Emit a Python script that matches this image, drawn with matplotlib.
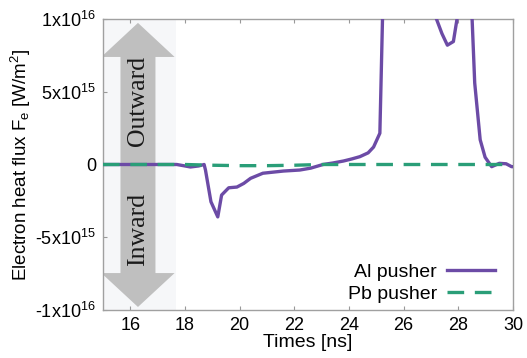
import matplotlib
matplotlib.use("Agg")
import matplotlib.pyplot as plt
from matplotlib.patches import Polygon, Rectangle
import numpy as np

plt.rcParams['font.family'] = ['Liberation Sans', 'DejaVu Sans']
plt.rcParams['mathtext.default'] = 'regular'

# Al pusher (values in W/m^2)
al_t = [15.0, 16.0, 17.0, 17.7, 18.0, 18.2, 18.5, 18.7, 18.75, 18.95, 19.2, 19.34,
        19.6, 19.9, 20.15, 20.4, 20.85, 21.35, 21.6, 22.2, 22.6, 23.05, 23.4, 23.8,
        24.1, 24.4, 24.7, 24.9, 25.13, 25.3, 26.0, 27.0, 27.2, 27.4, 27.6, 27.82,
        27.97, 28.1, 28.4, 28.5, 28.6, 28.8, 28.98, 29.22, 29.5, 29.75, 29.95, 30.0]
al_v = [0.0, 0.0, 0.0, 0.0, -0.1e15, -0.17e15, -0.1e15, 0.0, -0.38e15, -2.56e15, -3.6e15, -2.1e15,
        -1.6e15, -1.55e15, -1.3e15, -0.95e15, -0.6e15, -0.5e15, -0.45e15, -0.38e15, -0.25e15, 0.0e15, 0.1e15, 0.24e15,
        0.38e15, 0.54e15, 0.8e15, 1.2e15, 2.15e15, 1.6e16, 2.5e16, 1.6e16, 1.0e16, 9.0e15, 8.2e15, 8.45e15,
        1.02e16, 1.3e16, 1.2e16, 1.02e16, 5.6e15, 1.7e15, 0.5e15, -0.15e15, 0.08e15, 0.05e15, -0.15e15, -0.15e15]

# Pb pusher
pb_t = [15, 17, 18, 19, 20, 21, 22, 23, 24, 26, 28, 29, 30]
pb_v = [0.0, 0.0, 0.0, -0.05e15, -0.08e15, -0.08e15, -0.05e15, 0.0, 0.0, 0.0, 0.0, 0.0, 0.0]

xticks = [16, 18, 20, 22, 24, 26, 28, 30]
yticks = [-1e16, -5e15, 0, 5e15, 1e16]
ytick_labels = [r'-1x10$^{16}$', r'-5x10$^{15}$', '0', r'5x10$^{15}$', r'1x10$^{16}$']

purple = '#6c4ba6'
green = '#2a9e78'

fig = plt.figure(figsize=(5.27, 3.58), dpi=100)
ax = fig.add_axes([0.1954, 0.134, 0.778, 0.813])

# background band and double arrow
ax.add_patch(Rectangle((15, -1e16), 2.68, 2e16, facecolor='#f6f7f9', edgecolor='none', zorder=0))
cx = 16.28
hw, sw = 1.34, 0.64
up = [(cx - hw, 0.739e16), (cx, 0.973e16), (cx + hw, 0.739e16), (cx + sw, 0.739e16),
      (cx + sw, -0.746e16), (cx + hw, -0.746e16), (cx, -0.979e16), (cx - hw, -0.746e16),
      (cx - sw, -0.746e16), (cx - sw, 0.739e16)]
ax.add_patch(Polygon(up, closed=True, facecolor='#bfbfbf', edgecolor='none', zorder=1))
ax.text(cx, 0.436e16, 'Outward', rotation=90, ha='center', va='center',
        family=['Liberation Serif'], fontsize=18.5, color='#1a1a1a', zorder=2)
ax.text(cx, -0.447e16, 'Inward', rotation=90, ha='center', va='center',
        family=['Liberation Serif'], fontsize=18.5, color='#1a1a1a', zorder=2)

ax.plot(al_t, al_v, color=purple, lw=2.4, label='Al pusher', zorder=3)
ax.plot(pb_t, pb_v, color=green, lw=2.4, ls=(0, (5, 3.2)), label='Pb pusher', zorder=4)

ax.set_xlim(15, 30)
ax.set_ylim(-1e16, 1e16)
ax.set_xticks(xticks)
ax.set_xticklabels([str(x) for x in xticks])
ax.set_yticks(yticks)
ax.set_yticklabels(ytick_labels)
ax.tick_params(direction='in', length=3, width=0.8, color='#999999', labelsize=13,
               top=True, right=False, pad=5)
for s in ax.spines.values():
    s.set_color('#a0a0a0')
    s.set_linewidth(1.0)

ax.set_xlabel('Times [ns]', fontsize=14, labelpad=0)
ax.set_ylabel(r'Electron heat flux F$_e$ [W/m$^2$]', fontsize=13.5, labelpad=2)

ax.legend(loc='lower right', frameon=False, markerfirst=False, fontsize=14,
          handlelength=2.5, handletextpad=0.5, labelspacing=0.2,
          borderaxespad=0.2, bbox_to_anchor=(0.985, -0.015))

fig.savefig('out.png', dpi=100)
